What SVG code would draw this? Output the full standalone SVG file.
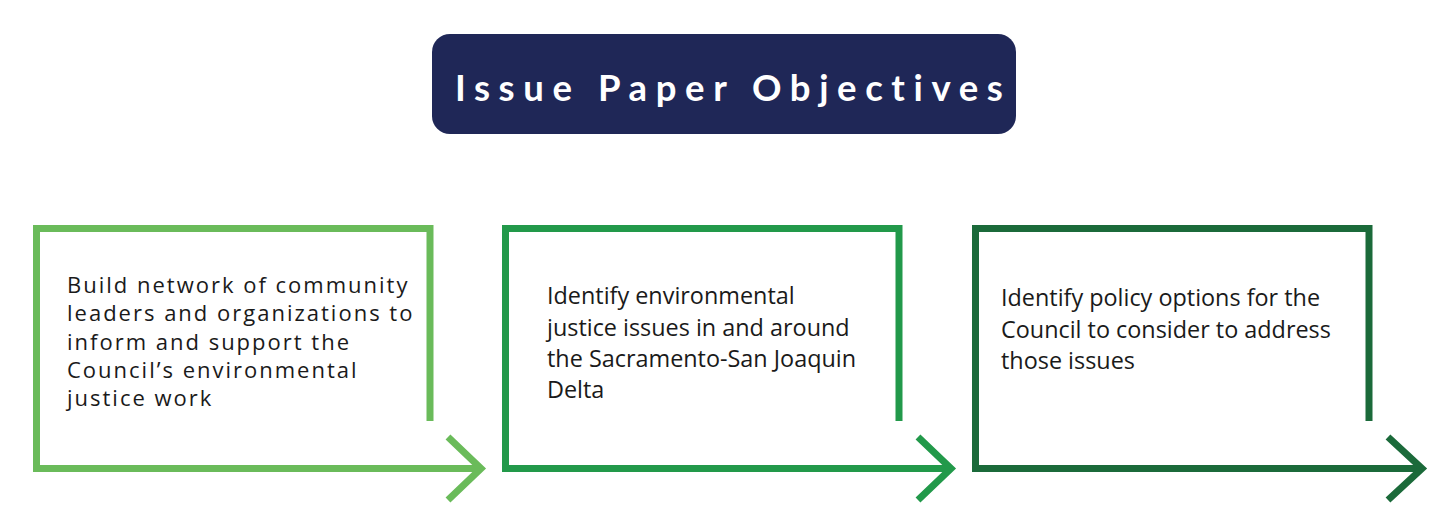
<svg xmlns="http://www.w3.org/2000/svg" width="1450" height="525" viewBox="0 0 1450 525">
<style>
.frame{fill:none;stroke-width:7;stroke-linecap:butt;stroke-linejoin:miter}
.body{font-family:"Open Sans","Liberation Sans",sans-serif;fill:#1a1a1a}
.title{font-family:Lato,"Open Sans",sans-serif;font-weight:bold;fill:#ffffff;font-size:36.5px;letter-spacing:8.6px}
</style>
<rect width="1450" height="525" fill="#ffffff"/>
<g id="title">
<rect x="432" y="34" width="584" height="100" rx="18" fill="#1f2757"/>
<text class="title" x="455" y="101">Issue Paper Objectives</text>
</g>
<g id="connectors">
<polyline class="frame" stroke="#6abb5a" points="430,421 430,228.5 36.5,228.5 36.5,468.5 481,468.5"/>
<polyline class="frame" stroke="#6abb5a" points="448,437 481,468.5 448,500"/>
<polyline class="frame" stroke="#22994a" points="899,421 899,228.5 505.5,228.5 505.5,468.5 951,468.5"/>
<polyline class="frame" stroke="#22994a" points="918,437 951,468.5 918,500"/>
<polyline class="frame" stroke="#1b6a3a" points="1369,421 1369,228.5 975.5,228.5 975.5,468.5 1422,468.5"/>
<polyline class="frame" stroke="#1b6a3a" points="1388,437 1422,468.5 1388,500"/>
</g>
<g id="node1">
<text class="body" font-size="22" letter-spacing="2">
<tspan x="67" y="293">Build network of community</tspan>
<tspan x="67" y="321.3">leaders and organizations to</tspan>
<tspan x="67" y="349.6">inform and support the</tspan>
<tspan x="67" y="378">Council’s environmental</tspan>
<tspan x="67" y="406.3">justice work</tspan>
</text>
</g>
<g id="node2">
<text class="body" font-size="23.4">
<tspan x="547" y="304">Identify environmental</tspan>
<tspan x="547" y="335.5">justice issues in and around</tspan>
<tspan x="547" y="367">the Sacramento-San Joaquin</tspan>
<tspan x="547" y="398">Delta</tspan>
</text>
</g>
<g id="node3">
<text class="body" font-size="23.4">
<tspan x="1001" y="306">Identify policy options for the</tspan>
<tspan x="1001" y="337.5">Council to consider to address</tspan>
<tspan x="1001" y="368.5">those issues</tspan>
</text>
</g>
</svg>
